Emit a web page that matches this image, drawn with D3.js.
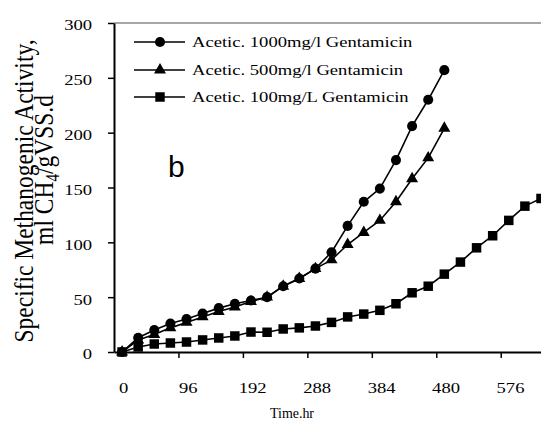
<!DOCTYPE html>
<html>
<head>
<meta charset="utf-8">
<script src="https://cdn.jsdelivr.net/npm/d3@7"></script>
<style>
  body { margin: 0; background: #fff; }
  svg { display: block; }
</style>
</head>
<body>
<svg id="chart"></svg>
<script>
// hours, one sample every 24 h
const hoursLong = d3.range(0, 625, 24);
const hoursShort = d3.range(0, 481, 24);

const acetic1000 = [0, 13, 20, 26, 30, 35, 40, 44, 47, 50, 60, 67, 76, 91, 115, 137, 149, 175, 206, 230, 257];
const acetic500 = [0, 11, 16, 22, 27, 32, 37, 41, 46, 50, 60, 67, 76, 84, 98, 109, 120, 137, 158, 177, 204];
const acetic100 = [0, 4.6, 7.3, 8.2, 9.1, 11, 12.8, 14.6, 18.2, 18, 21, 22, 23.7, 27, 32, 34.6, 38, 44, 54, 60, 71, 82, 95, 106, 120, 133, 140];

const seriesNames = ["Acetic. 1000mg/l Gentamicin", "Acetic. 500mg/l Gentamicin", "Acetic. 100mg/L Gentamicin"];
const xTicks = [0, 96, 192, 288, 384, 480, 576];
const yTicks = [0, 50, 100, 150, 200, 250, 300];

const width = 541, height = 421;
const serif = "'Liberation Serif', 'Times New Roman', serif";
const stretch = 1.2;

const svg = d3.select("#chart")
    .attr("width", width)
    .attr("height", height)
    .attr("viewBox", [0, 0, width, height]);

const x = d3.scaleLinear([-12, 624], [114, 541]);
const y = d3.scaleLinear([0, 300], [352, 23]);

// top border of plot area
svg.append("line")
    .attr("x1", x(-12)).attr("x2", width)
    .attr("y1", y(300)).attr("y2", y(300))
    .attr("stroke", "#8a8a8a")
    .attr("stroke-width", 1.5);

// y axis
svg.append("g")
    .attr("transform", `translate(${x(-12)},0)`)
    .call(d3.axisLeft(y).tickValues(yTicks).tickSize(6).tickSizeOuter(0).tickPadding(16))
    .call(g => g.select(".domain").attr("stroke", "#000").attr("stroke-width", 2))
    .call(g => g.selectAll(".tick line").attr("stroke", "#000").attr("stroke-width", 1.5))
    .call(g => g.selectAll(".tick text")
        .attr("font-family", serif)
        .attr("font-size", 15.5)
        .attr("fill", "#000")
        .attr("x", -22 / stretch)
        .attr("dy", "0.45em")
        .attr("transform", `scale(${stretch},1)`));

// x axis: labels on categories, tick marks between them
svg.append("g")
    .attr("transform", `translate(0,${y(0)})`)
    .call(d3.axisBottom(x).tickValues(xTicks).tickSize(6).tickSizeOuter(0))
    .call(g => g.select(".domain").attr("stroke", "#000").attr("stroke-width", 2))
    .call(g => g.selectAll(".tick line")
        .attr("stroke", "#000").attr("stroke-width", 1.5)
        .attr("x1", x(-12) - x(0)).attr("x2", x(-12) - x(0))
        .attr("display", (d, i) => i === 0 ? "none" : null))
    .call(g => g.selectAll(".tick text")
        .attr("font-family", serif)
        .attr("font-size", 15.5)
        .attr("fill", "#000")
        .attr("y", 41)
        .attr("dy", 0)
        .attr("x", 1)
        .attr("transform", `scale(${stretch},1)`));

// series
const line = d3.line().x(d => x(d[0])).y(d => y(d[1]));
const series = [
  { name: seriesNames[0], pts: d3.zip(hoursShort, acetic1000), sym: d3.symbolCircle, size: 80 },
  { name: seriesNames[1], pts: d3.zip(hoursShort, acetic500), sym: d3.symbolTriangle, size: 62 },
  { name: seriesNames[2], pts: d3.zip(hoursLong, acetic100), sym: d3.symbolSquare, size: 90 }
];

series.forEach(s => {
  svg.append("path")
      .attr("d", line(s.pts))
      .attr("fill", "none")
      .attr("stroke", "#000")
      .attr("stroke-width", 1.6);
  svg.append("g")
    .selectAll("path")
    .data(s.pts)
    .join("path")
      .attr("transform", d => `translate(${x(d[0])},${y(d[1])})`)
      .attr("d", d3.symbol(s.sym, s.size))
      .attr("fill", "#000");
});

// legend
const legendRows = [42, 70, 97];
series.forEach((s, i) => {
  const g = svg.append("g").attr("transform", `translate(0,${legendRows[i]})`);
  g.append("line")
      .attr("x1", 134).attr("x2", 185)
      .attr("stroke", "#000").attr("stroke-width", 1.6);
  g.append("path")
      .attr("transform", "translate(160,0)")
      .attr("d", d3.symbol(s.sym, s.size))
      .attr("fill", "#000");
  g.append("text")
      .attr("transform", `translate(192,5) scale(${stretch},1)`)
      .attr("font-family", serif)
      .attr("font-size", 15.5)
      .text(s.name);
});

// panel letter
svg.append("text")
    .attr("x", 168).attr("y", 177)
    .attr("font-family", "'Liberation Sans', Arial, sans-serif")
    .attr("font-size", 30)
    .text("b");

// axis titles
svg.append("text")
    .attr("transform", `translate(292,418) scale(0.9,1)`)
    .attr("text-anchor", "middle")
    .attr("font-family", serif)
    .attr("font-size", 15.5)
    .text("Time.hr");

svg.append("text")
    .attr("transform", `translate(33,191) scale(${stretch},1) rotate(-90)`)
    .attr("text-anchor", "middle")
    .attr("font-family", serif)
    .attr("font-size", 23.5)
    .text("Specific Methanogenic Activity,");

const t2 = svg.append("text")
    .attr("transform", `translate(53,170) scale(${stretch},1) rotate(-90)`)
    .attr("text-anchor", "middle")
    .attr("font-family", serif)
    .attr("font-size", 23.5);
t2.append("tspan").text("ml CH");
t2.append("tspan").attr("dy", 5).attr("font-size", 15).text("4");
t2.append("tspan").attr("dy", -5).text("/gVSS.d");
</script>
</body>
</html>
